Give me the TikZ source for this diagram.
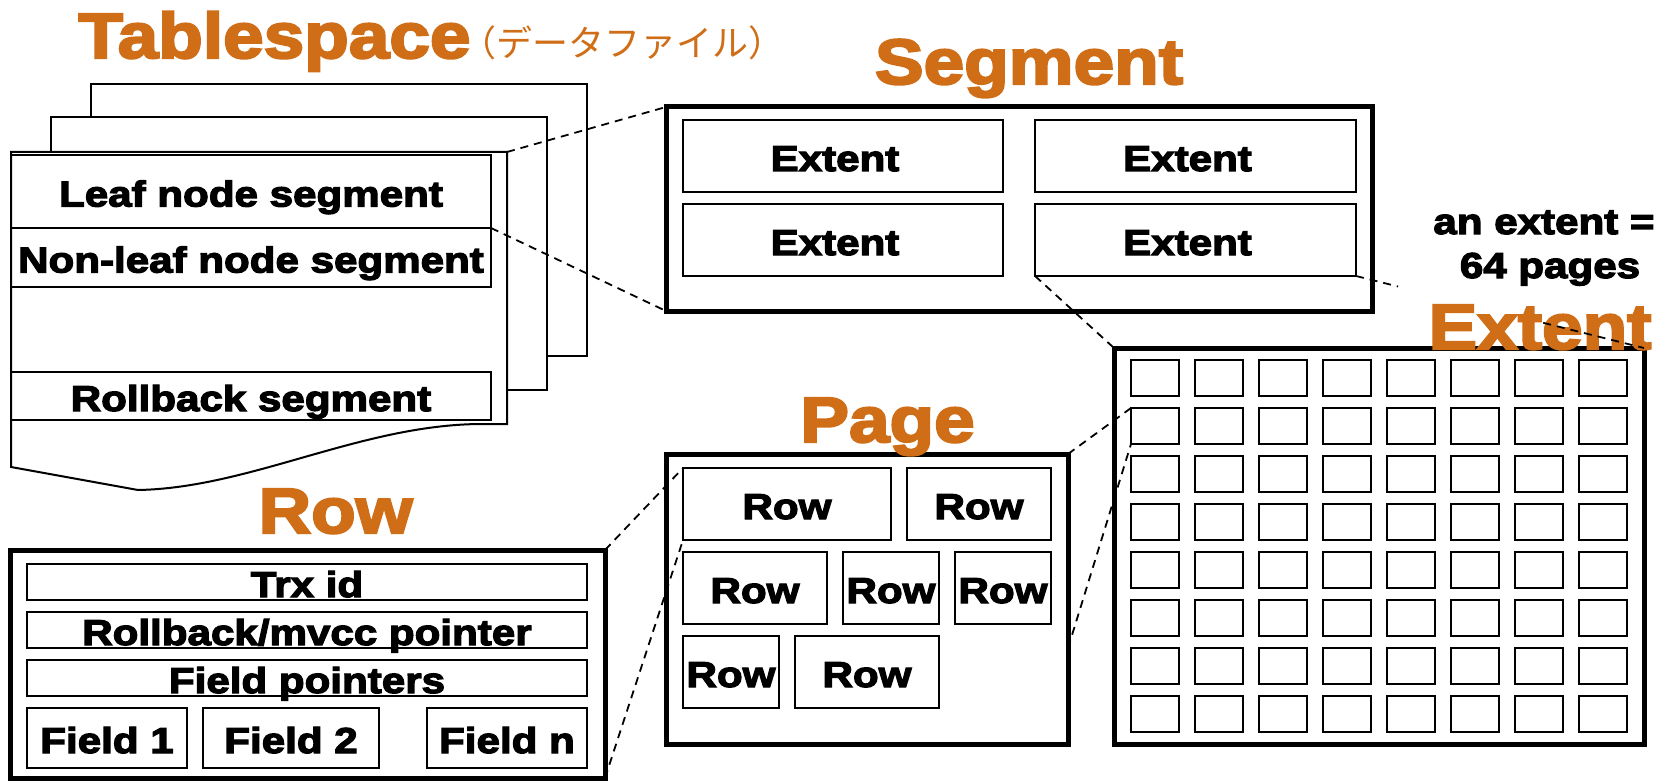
\documentclass[tikz,border=0pt]{standalone}
\usepackage{fontspec}
\usetikzlibrary{calc}
\newfontfamily\heavyfont{Liberation Sans Bold}[FakeStretch=1.17,FakeBold=3.5]
\newfontfamily\titlefont{Liberation Sans Bold}[FakeStretch=1.14,FakeBold=3.5]
\newfontfamily\cjkfont{Noto Sans CJK JP}
\definecolor{titleorange}{RGB}{207,110,23}

\begin{document}
\begin{tikzpicture}[x=1pt, y=-1pt,
  sheet/.style={draw=black, line width=2pt, fill=white, line join=miter},
  cell/.style={draw=black, line width=2pt, inner sep=0pt, outer sep=0pt,
    text height=30pt, text depth=0pt,
    font=\heavyfont\fontsize{36}{40}\selectfont},
  frame/.style={draw=black, line width=5pt, inner sep=0pt, outer sep=0pt, fill=white},
  slot/.style={draw=black, line width=2pt, inner sep=0pt, outer sep=0pt,
    minimum width=48pt, minimum height=36pt},
  heading/.style={text=titleorange, inner sep=0pt, anchor=base,
    font=\titlefont\fontsize{64}{70}\selectfont},
  note/.style={inner sep=0pt, anchor=base, font=\heavyfont\fontsize{36}{40}\selectfont},
  link/.style={draw=black, line width=1.8pt, dash pattern=on 8pt off 6pt}]

\useasboundingbox (0,0) rectangle (1660,781);
\fill[white] (0,0) rectangle (1660,781);

% ---------- tablespace: stacked data files ----------
\draw[sheet] (91,84) rectangle (587,356);
\draw[sheet] (51,117) rectangle (547,390);
\coordinate (frontNE) at (507,152);
\draw[sheet] (11,152) -- (frontNE) -- (507,424) -- (480,424)
  .. controls (360,425) and (250,488) .. (138,490) -- (11,467) -- cycle;
\node[cell, minimum width=480pt, minimum height=73pt] (leaf) at (251,191.5) {Leaf node segment};
\node[cell, minimum width=480pt, minimum height=59pt] (nonleaf) at (251,257.5) {Non-leaf node segment};
\node[cell, minimum width=480pt, minimum height=48pt] (rollseg) at (251,396) {Rollback segment};

% ---------- segment ----------
\node[frame, minimum width=706pt, minimum height=204pt] (segbox) at (1019,209) {};
\node[cell, minimum width=320pt, minimum height=72pt] (e1) at (843,156) {Extent\hspace*{16pt}};
\node[cell, minimum width=321pt, minimum height=72pt] (e2) at (1195.5,156) {Extent\hspace*{16pt}};
\node[cell, minimum width=320pt, minimum height=72pt] (e3) at (843,240) {Extent\hspace*{16pt}};
\node[cell, minimum width=321pt, minimum height=72pt] (e4) at (1195.5,240) {Extent\hspace*{16pt}};

% ---------- extent: 8 x 8 pages ----------
\node[frame, minimum width=530pt, minimum height=396pt] (extbox) at (1379,546) {};
\foreach \r in {0,...,7}{
  \foreach \c in {0,...,7}{
    \node[slot] (pg-\r-\c) at ({1155+64*\c},{378+48*\r}) {};
  }
}

% ---------- page ----------
\node[frame, minimum width=402pt, minimum height=290pt] (page) at (867,599) {};
\node[cell, minimum width=208pt, minimum height=72pt] (rA) at (787,504) {Row};
\node[cell, minimum width=144pt, minimum height=72pt] (rB) at (979,504) {Row};
\node[cell, minimum width=144pt, minimum height=72pt] (rC) at (755,588) {Row};
\node[cell, minimum width=96pt, minimum height=72pt] (rD) at (891,588) {Row};
\node[cell, minimum width=96pt, minimum height=72pt] (rE) at (1003,588) {Row};
\node[cell, minimum width=96pt, minimum height=72pt] (rF) at (731,672) {Row};
\node[cell, minimum width=144pt, minimum height=72pt] (rG) at (867,672) {Row};

% ---------- row ----------
\node[frame, minimum width=595pt, minimum height=228pt] (rowbox) at (307.5,664) {};
\node[cell, minimum width=560pt, minimum height=36pt] (trx) at (307,582) {Trx id};
\node[cell, minimum width=560pt, minimum height=36pt] (mvcc) at (307,630) {Rollback/mvcc pointer};
\node[cell, minimum width=560pt, minimum height=36pt] (fptr) at (307,678) {Field pointers};
\node[cell, minimum width=160pt, minimum height=60pt] (f1) at (107,738) {Field 1};
\node[cell, minimum width=176pt, minimum height=60pt] (f2) at (291,738) {Field 2};
\node[cell, minimum width=160pt, minimum height=60pt] (fn) at (507,738) {Field n};

% ---------- headings ----------
\node[heading] (tstitle) at (274.5,58) {Tablespace};
\node[anchor=base west, inner sep=0pt, text=titleorange,
  font=\cjkfont\fontsize{36}{40}\selectfont] (tsjp) at (460,57) {（データファイル）};
\node[heading] (segtitle) at (1029,84) {Segment};
\node[heading] (exttitle) at (1540,349) {Extent};
\node[heading] (pagetitle) at (887.5,442) {Page};
\node[heading] (rowtitle) at (335.5,533) {Row};

\node[note] (size1) at (1544,234) {an extent =};
\node[note] (size2) at (1550,278) {64 pages};

% ---------- zoom connectors ----------
\draw[link] (frontNE) -- (segbox.north west);
\draw[link] (leaf.south east) -- (segbox.south west);
\draw[link] (e4.south west) -- (extbox.north west);
\coordinate (gapA) at ($(e4.south east)!0.146!(extbox.north east)$);
\coordinate (gapB) at ($(e4.south east)!0.65!(extbox.north east)$);
\draw[link] (e4.south east) -- (gapA);
\draw[link] (gapB) -- (extbox.north east);
\draw[link] (page.north east) -- (pg-1-0.north west);
\coordinate (pageR) at ($(page.north east)!0.669!(page.south east)$);
\draw[link] (pageR) -- (pg-1-0.south west);
\draw[link] (rowbox.north east) -- (rA.north west);
\draw[link] (rowbox.south east) -- (rA.south west);
\end{tikzpicture}
\end{document}
